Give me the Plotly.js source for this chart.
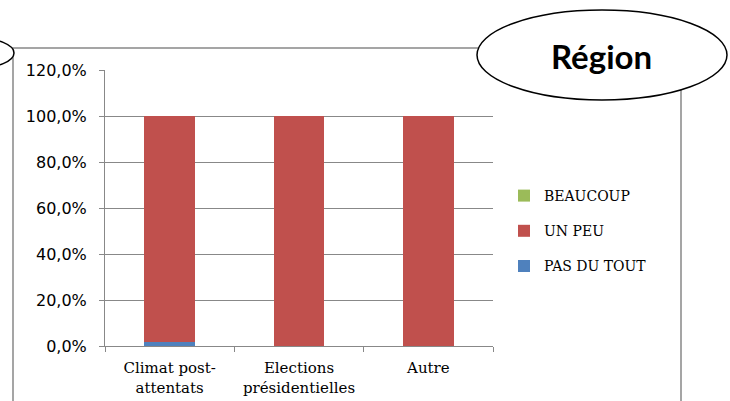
<!DOCTYPE html>
<html><head><meta charset="utf-8">
<script src="https://cdn.plot.ly/plotly-3.0.1.min.js"></script>
<style>html,body{margin:0;padding:0;background:#fff}#c{width:730px;height:401px}</style>
</head><body><div id="c"></div>
<script>
const categories = ["Climat post-<br>attentats", "Elections<br>présidentielles", "Autre"];
const pasDuTout = [0.016, 0, 0];
const unPeu = [0.984, 1.0, 1.0];
const beaucoup = [0, 0, 0];
const yTicks = [0, 0.2, 0.4, 0.6, 0.8, 1.0, 1.2];
const seriesNames = ["PAS DU TOUT", "UN PEU", "BEAUCOUP"];
const colors = ["#4F81BD", "#C0504D", "#9BBB59"];
const ranks = [3, 2, 1];

const L = 105, R = 493, T = 70, B = 346, W = 730, H = 401;
const px = v => (v - L) / (R - L);
const py = v => (B - v) / (B - T);

const vals = [pasDuTout, unPeu, beaucoup];
const data = vals.map((v, i) => ({
  type: 'bar', x: categories, y: v, name: seriesNames[i],
  marker: {color: colors[i], line: {width: 0}},
  legendgroup: 'g' + i, legendrank: ranks[i], hoverinfo: 'none'
}));

const layout = {
  width: W, height: H,
  margin: {l: L, r: W - R, t: T, b: H - B, pad: 0},
  paper_bgcolor: '#fff', plot_bgcolor: '#fff',
  barmode: 'stack', bargap: 0.606,
  separators: ', ',
  showlegend: true,
  legend: {
    x: px(504), y: py(180), xanchor: 'left', yanchor: 'top',
    traceorder: 'grouped', tracegroupgap: 14,
    font: {family: 'DejaVu Serif', size: 14, color: '#000'},
    bgcolor: 'rgba(0,0,0,0)', itemwidth: 30
  },
  xaxis: {
    type: 'category', showgrid: false, zeroline: false,
    showline: true, linecolor: '#888', linewidth: 1,
    ticks: 'outside', tickson: 'boundaries', ticklen: 5, tickcolor: '#888',
    tickfont: {family: 'DejaVu Serif', size: 15, color: '#000'},
    ticklabelstandoff: 8,
    fixedrange: true
  },
  yaxis: {
    range: [0, 1.2], tickvals: yTicks, tickformat: '.1%',
    showgrid: true, gridcolor: '#888', gridwidth: 1, zeroline: false,
    showline: true, linecolor: '#888', linewidth: 1,
    ticks: 'outside', ticklen: 5, tickcolor: '#888',
    tickfont: {family: 'DejaVu Sans', size: 16, color: '#000'},
    ticklabelstandoff: 9,
    fixedrange: true
  },
  shapes: [
    {type: 'rect', xref: 'paper', yref: 'paper', x0: px(13), x1: px(681), y0: py(48), y1: py(420),
     line: {color: '#888', width: 1.5}, fillcolor: 'rgba(0,0,0,0)', layer: 'below'},
    {type: 'circle', xref: 'paper', yref: 'paper', x0: px(477), x1: px(727), y0: py(10), y1: py(100),
     line: {color: '#000', width: 1.5}, fillcolor: '#fff', layer: 'above'},
    {type: 'circle', xref: 'paper', yref: 'paper', x0: px(-60), x1: px(14), y0: py(38), y1: py(68),
     line: {color: '#000', width: 1.5}, fillcolor: '#fff', layer: 'above'}
  ],
  annotations: [
    {text: '<b>Région</b>', xref: 'paper', yref: 'paper', x: px(601), y: py(56),
     xanchor: 'center', yanchor: 'middle', showarrow: false,
     font: {family: 'Lato', size: 33, color: '#000'}}
  ]
};
Plotly.newPlot('c', data, layout, {displayModeBar: false, staticPlot: true});
</script></body></html>
